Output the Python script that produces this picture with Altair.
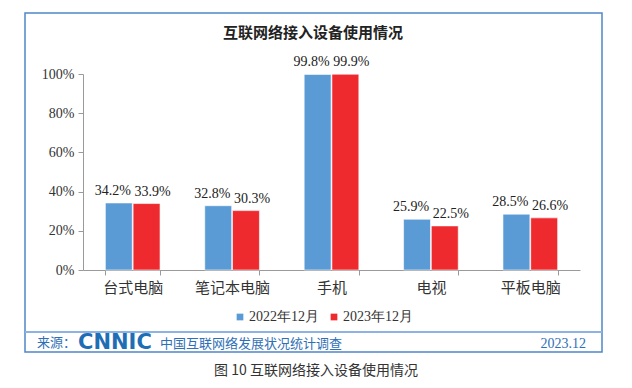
import altair as alt
import pandas as pd

categories = ["台式电脑", "笔记本电脑", "手机", "电视", "平板电脑"]
periods = ["2022年12月", "2023年12月"]
values_2022 = [34.2, 32.8, 99.8, 25.9, 28.5]
values_2023 = [33.9, 30.3, 99.9, 22.5, 26.6]
y_ticks = [0, 20, 40, 60, 80, 100]

rows = []
for c, a, b in zip(categories, values_2022, values_2023):
    rows.append({"device": c, "period": periods[0], "value": a})
    rows.append({"device": c, "period": periods[1], "value": b})
df = pd.DataFrame(rows)

BLUE = "#5a9bd5"
RED = "#ee2a2e"
SERIF = "Liberation Serif"
CJK = "Noto Sans CJK SC"
FOOT = "#2f6fb5"

x_enc = alt.X(
    "device:N", sort=categories, title=None,
    scale=alt.Scale(paddingInner=0.45, paddingOuter=0.225),
    axis=alt.Axis(labelAngle=0, labelFont=CJK, labelFontSize=15, labelColor="#333",
                  labelFontWeight="normal",
                  labelPadding=5, tickBand="extent", tickSize=5,
                  domainColor="#9a9a9a", tickColor="#9a9a9a"),
)
xo_enc = alt.XOffset("period:N", sort=periods, scale=alt.Scale(paddingInner=0.03))
y_enc = alt.Y(
    "value:Q", title=None, scale=alt.Scale(domain=[0, 100]),
    axis=alt.Axis(values=y_ticks, labelExpr="datum.value + '%'", grid=False,
                  labelFont=SERIF, labelFontSize=14, labelColor="#333",
                  tickSize=5, labelPadding=4,
                  domainColor="#9a9a9a", tickColor="#9a9a9a"),
)

base = alt.Chart(df)
bars = base.mark_bar(stroke="white", strokeWidth=0.6).encode(
    x=x_enc, xOffset=xo_enc, y=y_enc,
    color=alt.Color("period:N", sort=periods,
                    scale=alt.Scale(domain=periods, range=[BLUE, RED]),
                    legend=alt.Legend(title=None, orient="none", legendX=150, legendY=236,
                                      direction="horizontal", symbolType="square",
                                      symbolSize=45, symbolStrokeWidth=0,
                                      labelFont=SERIF, labelFontSize=14, labelColor="#333",
                                      columnPadding=8, labelOffset=2)),
)
lab_base = base.transform_calculate(label="format(datum.value, '.1f') + '%'")
labels_a = lab_base.transform_filter(alt.datum.period == periods[0]).mark_text(
    baseline="bottom", dy=-5, dx=-6, font=SERIF, fontSize=14, color="#222"
).encode(x=x_enc, xOffset=xo_enc, y=y_enc, text="label:N")
labels_b = lab_base.transform_filter(alt.datum.period == periods[1]).mark_text(
    baseline="bottom", dy=-5, dx=6, font=SERIF, fontSize=14, color="#222"
).encode(x=x_enc, xOffset=xo_enc, y=y_enc, text="label:N")

one = alt.Chart(pd.DataFrame({"k": [0]}))
frame = one.mark_rect(fill="transparent", stroke="#4f86c6", strokeWidth=1.5).encode(
    x=alt.value(-58), x2=alt.value(519), y=alt.value(-61), y2=alt.value(278)
)
sep = one.mark_rule(color="#8db3e2", strokeWidth=2).encode(
    x=alt.value(-58), x2=alt.value(519), y=alt.value(258)
)
title = one.mark_text(font=CJK, fontSize=15, fontWeight="bold", color="#222").encode(
    x=alt.value(230), y=alt.value(-41), text=alt.value("互联网络接入设备使用情况")
)
src = one.mark_text(font=CJK, fontSize=13, color=FOOT, align="left").encode(
    x=alt.value(-46), y=alt.value(269), text=alt.value("来源：")
)
logo = one.mark_text(font="DejaVu Sans", fontSize=21, fontWeight="bold", color="#1f6db5",
                     align="left").encode(
    x=alt.value(-5), y=alt.value(269), text=alt.value("CNNIC")
)
survey = one.mark_text(font=CJK, fontSize=13, color=FOOT, align="left").encode(
    x=alt.value(77), y=alt.value(270), text=alt.value("中国互联网络发展状况统计调查")
)
date = one.mark_text(font=SERIF, fontSize=14, color=FOOT, align="right").encode(
    x=alt.value(503), y=alt.value(270), text=alt.value("2023.12")
)
caption = one.mark_text(font=CJK, fontSize=14, color="#333").encode(
    x=alt.value(233), y=alt.value(297), text=alt.value("图 10  互联网络接入设备使用情况")
)

chart = alt.layer(frame, sep, bars, labels_a, labels_b, title, src, logo, survey, date,
                  caption).properties(
    width=497, height=196,
    autosize=alt.AutoSizeParams(type="none"),
    padding={"left": 75, "top": 66, "right": 42, "bottom": 110},
    background="white",
).configure_view(strokeWidth=0)

chart.save("out.html", embed_options={"renderer": "svg", "actions": False})
